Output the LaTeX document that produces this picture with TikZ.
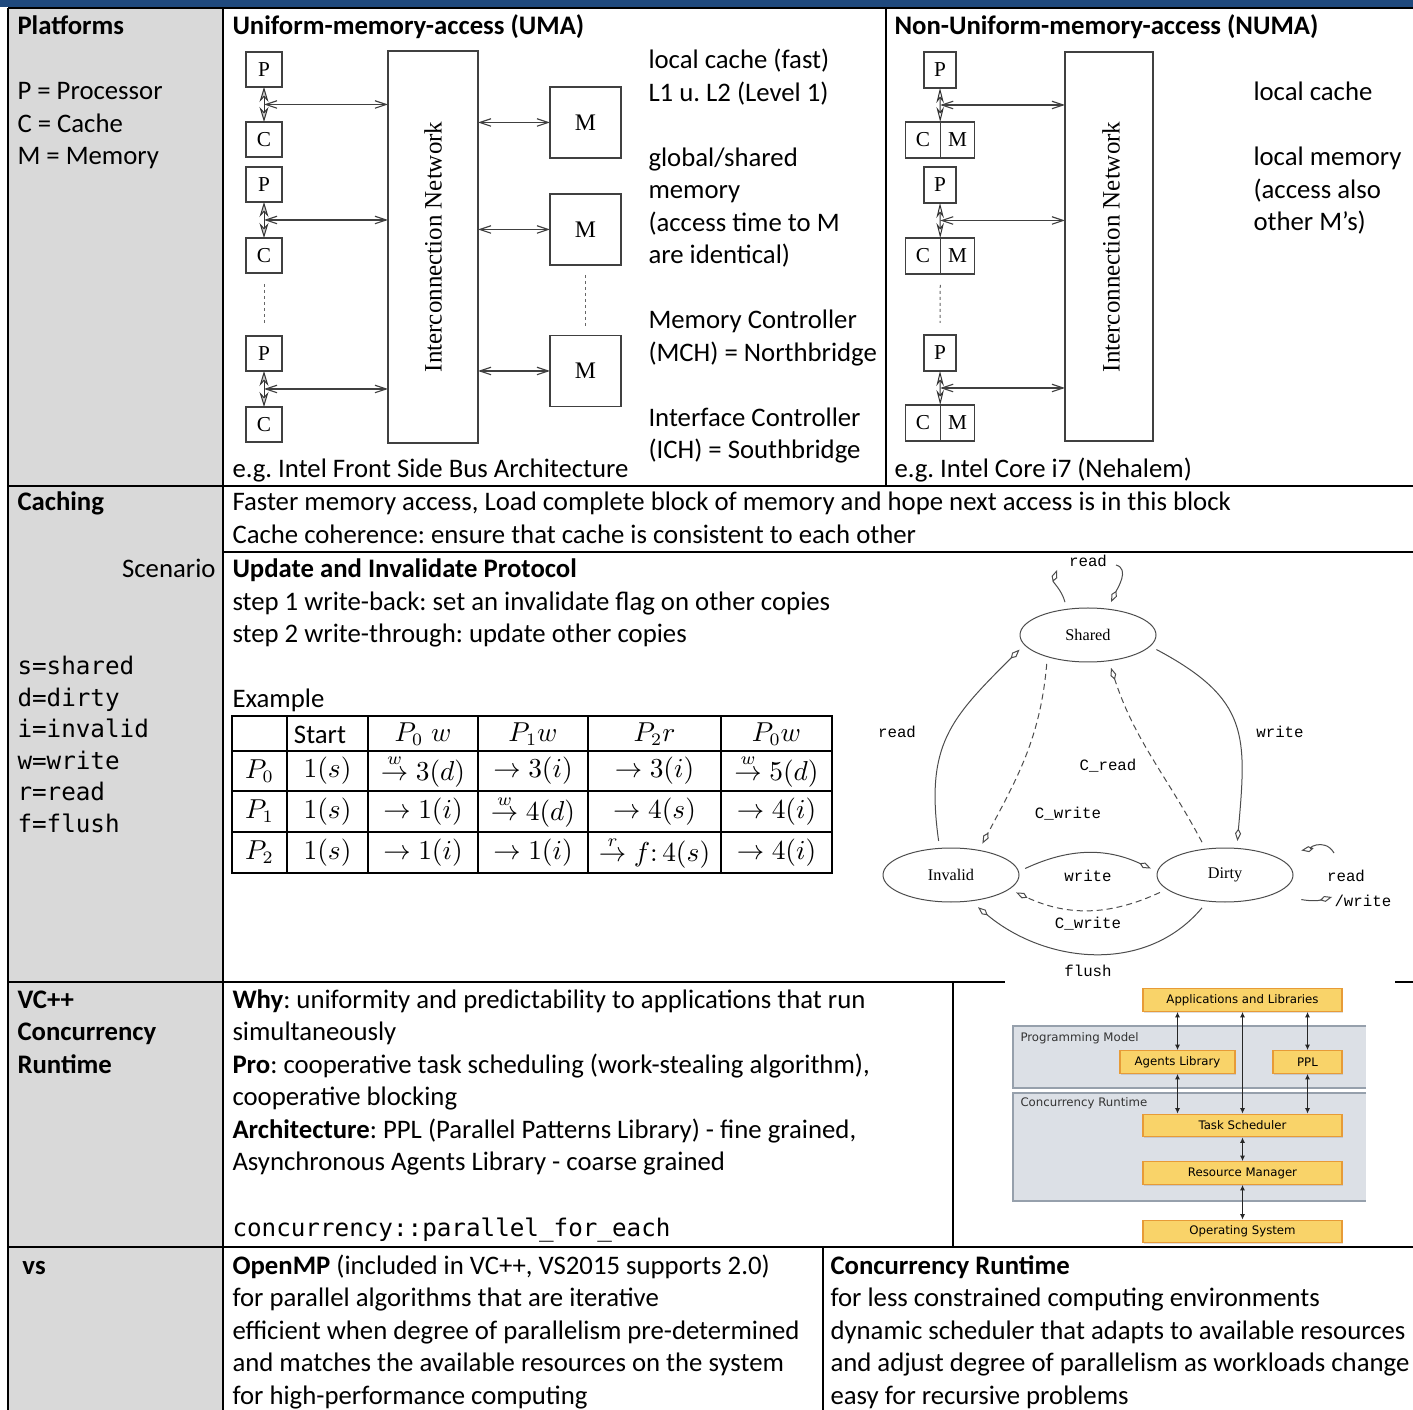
\documentclass[tikz,border=0pt]{standalone}
\usepackage[no-math]{fontspec}
\setmainfont{Carlito}
\setmonofont{DejaVu Sans Mono}
\newfontfamily\figserif{Liberation Serif}
\newfontfamily\figmono{Liberation Mono}
\newfontfamily\figsans{DejaVu Sans}
\usepackage{amsmath}
\usetikzlibrary{arrows.meta, positioning, shapes.geometric, shadows, calc}

\definecolor{bandblue}{RGB}{31,73,125}
\definecolor{colgray}{RGB}{217,217,217}
\definecolor{layerfill}{RGB}{220,224,230}
\definecolor{layeredge}{RGB}{150,160,172}
\definecolor{compfill}{RGB}{249,211,105}
\definecolor{compedge}{RGB}{231,155,55}

\begin{document}
\frenchspacing
\begin{tikzpicture}[x=0.4pt, y=-0.4pt, font=\fontsize{10.7}{13}\selectfont]

	\tikzset{
		rule/.style={line width=0.9pt},
		tline/.style={line width=0.8pt},
		txt/.style={anchor=base west, inner sep=0pt, align=left},
		mono/.style={txt, font=\ttfamily\fontsize{9.7}{12.56}\selectfont},
		tcell/.style={inner sep=0pt, font=\fontsize{10.5}{12}\selectfont},
		unit/.style={draw=black!75, line width=0.45pt, inner sep=0pt, outer sep=0pt, font=\figserif\fontsize{8.5}{9}\selectfont},
		pbox/.style={unit, minimum width=14.4pt, minimum height=14pt},
		npbox/.style={unit, minimum width=12.8pt, minimum height=14.4pt},
		halfbox/.style={unit, minimum width=13.8pt, minimum height=14.4pt},
		mbox/.style={unit, minimum width=28.4pt, minimum height=28.4pt, font=\figserif\fontsize{9.5}{10}\selectfont},
		netbox/.style={unit, minimum width=36pt, minimum height=156.8pt},
		nettext/.style={rotate=90, inner sep=0pt, font=\figserif\fontsize{10}{11}\selectfont},
		link/.style={draw=black!75, line width=0.45pt, {Straight Barb[length=4.5pt,width=3pt]}-{Straight Barb[length=4.5pt,width=3pt]}},
		bus/.style={draw=black!80, line width=0.4pt, {Stealth[length=6pt,width=3.6pt,fill=gray!40]}-{Stealth[length=6pt,width=3.6pt,fill=gray!40]}},
		nbus/.style={draw=black!80, line width=0.4pt, {Stealth[open,length=6pt,width=3pt]}-{Stealth[open,length=6pt,width=3pt]}},
		dotline/.style={draw=black!60, line width=0.4pt, dash pattern=on 1.2pt off 1.2pt},
		state/.style={ellipse, draw=black!70, line width=0.4pt, minimum width=54.4pt, minimum height=21.6pt, inner sep=0pt, outer sep=3pt, font=\figserif\fontsize{6.5}{7}\selectfont},
		trans/.style={draw=black!70, line width=0.4pt, -{Kite[open,length=5pt,width=2.4pt,inset=2pt]}},
		ctrans/.style={trans, dash pattern=on 2.4pt off 1.6pt},
		elabel/.style={inner sep=0pt, font=\figmono\fontsize{6.3}{7}\selectfont},
		comp/.style={draw=compedge, fill=compfill, line width=0.5pt, inner sep=0pt, minimum width=79.6pt, minimum height=9pt, font=\figsans\fontsize{4.7}{5}\selectfont, drop shadow={opacity=0.25, shadow xshift=0.5pt, shadow yshift=-0.5pt}},
		layerlabel/.style={anchor=west, inner sep=0pt, text=black!80, font=\figsans\fontsize{4.7}{5}\selectfont},
		rtlink/.style={draw=black!85, line width=0.4pt, {Latex[length=2.2pt,width=2pt]}-{Latex[length=2.2pt,width=2pt]}},
	}

	\useasboundingbox (0,0) rectangle (1413,1410);

	\fill[bandblue] (0,0) rectangle (1413,7);
	\fill[colgray] (8,8) rectangle (223,1410);

	\draw[rule] (8,8) -- (1413,8);
	\draw[rule] (8,8) -- (8,1410);
	\draw[rule] (223,8) -- (223,1410);
	\draw[rule] (886,8) -- (886,486);
	\draw[rule] (8,486) -- (1413,486);
	\draw[rule] (223,552) -- (1413,552);
	\draw[rule] (8,982) -- (1005,982);
	\draw[rule] (1395,982) -- (1413,982);
	\draw[rule] (953,982) -- (953,1247);
	\draw[rule] (8,1247) -- (1413,1247);
	\draw[rule] (823,1247) -- (823,1410);

	% multi-line nodes sit on the baseline of their last line
	\node[txt] (lplat) at (17,35) {\textbf{Platforms}};
	\node[txt] (llegend) at (17,165) {P = Processor\\C = Cache\\M = Memory};
	\node[txt] (lcach) at (17,511) {\textbf{Caching}};
	\node[txt, anchor=base east] (lscen) at (216,578) {Scenario};
	\node[mono] (labbr) at (17,832) {s=shared\\d=dirty\\i=invalid\\w=write\\r=read\\f=flush};
	\node[txt] (lvc) at (17,1073) {\textbf{VC++}\\\textbf{Concurrency}\\\textbf{Runtime}};
	\node[txt] (lvs) at (22,1274) {\textbf{vs}};

	\node[txt] (tuma) at (232,35) {\textbf{Uniform-memory-access (UMA)}};
	\node[txt] (tnuma) at (894,35) {\textbf{Non-Uniform-memory-access (NUMA)}};
	\node[txt] (tumanote) at (648,459) {local cache (fast)\\L1 u. L2 (Level 1)\\[13pt]global/shared\\memory\\(access time to M\\are identical)\\[13pt]Memory Controller\\(MCH) = Northbridge\\[13pt]Interface Controller\\(ICH) = Southbridge};
	\node[txt] (tumaeg) at (232,478) {e.g. Intel Front Side Bus Architecture};
	\node[txt] (tnumanote) at (1253,231) {local cache\\[13pt]local memory\\(access also\\other M's)};
	\node[txt] (tnumaeg) at (894,478) {e.g. Intel Core i7 (Nehalem)};

	% UMA
	\node[pbox] (up1) at (264,69.5) {P};
	\node[pbox, below=14pt of up1] (uc1) {C};
	\node[pbox] (up2) at (264,184.5) {P};
	\node[pbox, below=14.4pt of up2] (uc2) {C};
	\node[pbox] (up3) at (264,353.5) {P};
	\node[pbox, below=14.4pt of up3] (uc3) {C};
	\node[netbox] (unet) at (433,247) {};
	\node[nettext] (unettext) at (unet.center) {Interconnection Network};
	\node[mbox] (um1) at (585.5,122.5) {M};
	\node[mbox] (um2) at (585.5,229.5) {M};
	\node[mbox] (um3) at (585.5,371) {M};

	\coordinate (uj1) at ($(up1.south)!0.5!(uc1.north)$);
	\coordinate (uj2) at ($(up2.south)!0.5!(uc2.north)$);
	\coordinate (uj3) at ($(up3.south)!0.5!(uc3.north)$);

	\draw[bus] (up1) -- (uc1);
	\draw[bus] (up2) -- (uc2);
	\draw[bus] (up3) -- (uc3);
	\draw[link] (uj1) -- (uj1 -| unet.west);
	\draw[link] (uj2) -- (uj2 -| unet.west);
	\draw[link] (uj3) -- (uj3 -| unet.west);
	\draw[link] (unet.east |- um1) -- (um1.west);
	\draw[link] (unet.east |- um2) -- (um2.west);
	\draw[link] (unet.east |- um3) -- (um3.west);
	\draw[dotline] ([yshift=-4.4pt]uc2.south) -- ([yshift=5.2pt]up3.north);
	\draw[dotline] ([yshift=-4pt]um2.south) -- ([yshift=2.8pt]um3.north);

	% NUMA
	\node[npbox] (np1) at (940,70) {P};
	\node[halfbox] (nc1) at (923,140) {C};
	\node[halfbox, right=0pt of nc1] (nm1) {M};
	\node[npbox] (np2) at (940,185) {P};
	\node[halfbox] (nc2) at (923,256) {C};
	\node[halfbox, right=0pt of nc2] (nm2) {M};
	\node[npbox] (np3) at (940,353) {P};
	\node[halfbox] (nc3) at (923,423) {C};
	\node[halfbox, right=0pt of nc3] (nm3) {M};
	\node[netbox, minimum width=35.2pt, minimum height=155.6pt] (nnet) at (1109,246.5) {};
	\node[nettext] (nnettext) at (1111,247) {Interconnection Network};

	\coordinate (nj1) at ($(np1.south)!0.5!(nc1.north east)$);
	\coordinate (nj2) at ($(np2.south)!0.5!(nc2.north east)$);
	\coordinate (nj3) at ($(np3.south)!0.5!(nc3.north east)$);

	\draw[nbus] (np1.south) -- (nc1.north east);
	\draw[nbus] (np2.south) -- (nc2.north east);
	\draw[nbus] (np3.south) -- (nc3.north east);
	\draw[link] (nj1) -- (nj1 -| nnet.west);
	\draw[link] (nj2) -- (nj2 -| nnet.west);
	\draw[link] (nj3) -- (nj3 -| nnet.west);
	\draw[dotline] ([yshift=-4.4pt]nc2.south east) -- ([yshift=4.8pt]np3.north);

	% caching
	\node[txt] (tcach) at (232,543.5) {Faster memory access, Load complete block of memory and hope next access is in this block\\Cache coherence: ensure that cache is consistent to each other};
	\node[txt] (tscen) at (232,708) {\textbf{Update and Invalidate Protocol}\\step 1 write-back: set an invalidate flag on other copies\\step 2 write-through: update other copies\\[13pt]Example};

	\draw[tline] (232,716) rectangle (832,873);
	\draw[tline] (232,751) -- (832,751);
	\draw[tline] (232,791) -- (832,791);
	\draw[tline] (232,832) -- (832,832);
	\draw[tline] (287,716) -- (287,873);
	\draw[tline] (368,716) -- (368,873);
	\draw[tline] (478,716) -- (478,873);
	\draw[tline] (588,716) -- (588,873);
	\draw[tline] (721,716) -- (721,873);

	\node[tcell, font=\fontsize{10.7}{13}\selectfont] (h2) at (320,735) {Start};
	\node[tcell] (h3) at (423,734) {$P_0\;w$};
	\node[tcell] (h4) at (533,734) {$P_1w$};
	\node[tcell] (h5) at (654.5,734) {$P_2r$};
	\node[tcell] (h6) at (776.5,734) {$P_0w$};

	\node[tcell] (a1) at (259.5,771) {$P_0$};
	\node[tcell] (a2) at (327.5,771) {$1(s)$};
	\node[tcell] (a3) at (423,771) {$\stackrel{w}{\rightarrow}3(d)$};
	\node[tcell] (a4) at (533,771) {$\rightarrow 3(i)$};
	\node[tcell] (a5) at (654.5,771) {$\rightarrow 3(i)$};
	\node[tcell] (a6) at (776.5,771) {$\stackrel{w}{\rightarrow}5(d)$};

	\node[tcell] (b1) at (259.5,811.5) {$P_1$};
	\node[tcell] (b2) at (327.5,811.5) {$1(s)$};
	\node[tcell] (b3) at (423,811.5) {$\rightarrow 1(i)$};
	\node[tcell] (b4) at (533,811.5) {$\stackrel{w}{\rightarrow}4(d)$};
	\node[tcell] (b5) at (654.5,811.5) {$\rightarrow 4(s)$};
	\node[tcell] (b6) at (776.5,811.5) {$\rightarrow 4(i)$};

	\node[tcell] (d1) at (259.5,852.5) {$P_2$};
	\node[tcell] (d2) at (327.5,852.5) {$1(s)$};
	\node[tcell] (d3) at (423,852.5) {$\rightarrow 1(i)$};
	\node[tcell] (d4) at (533,852.5) {$\rightarrow 1(i)$};
	\node[tcell] (d5) at (654.5,852.5) {$\stackrel{r}{\rightarrow} f\mathpunct{:}4(s)$};
	\node[tcell] (d6) at (776.5,852.5) {$\rightarrow 4(i)$};

	% state diagram
	\node[state] (shared) at (1088,635) {Shared};
	\node[state] (invalid) at (951,875) {Invalid};
	\node[state] (dirty) at (1225,875) {Dirty};
	\coordinate (sl) at (1057,570);
	\coordinate (sr) at (1116,565);
	\coordinate (dl) at (1334,853);
	\coordinate (dr) at (1332,897);

	\draw[trans] (invalid.110) to[out=98, in=225, looseness=1.2] (shared.192);
	\draw[trans] (shared.348) to[out=-28, in=85, looseness=1.3] (dirty.70);
	\draw[ctrans] (shared.215) to[out=-95, in=62] (invalid.45);
	\draw[ctrans] (dirty.125) to[out=118, in=-72] (shared.305);
	\draw[trans] (invalid.5) to[out=25, in=155] (dirty.175);
	\draw[ctrans] (dirty.195) to[out=-155, in=-25] (invalid.345);
	\draw[trans] (dirty.235) to[out=-130, in=-40] (invalid.310);
	\draw[trans] (shared.125) to[out=105, in=250] (sl);
	\draw[trans] (sr) to[out=-15, in=65] (shared.55);
	\draw[trans, shorten >=7pt] (dl) to[out=120, in=10] (dirty.20);
	\draw[trans, shorten <=7pt] (dirty.-20) to[out=-10, in=195] (dr);

	\node[elabel] (e1) at (1088,561) {read};
	\node[elabel] (e2) at (897,732) {read};
	\node[elabel] (e3) at (1280,732) {write};
	\node[elabel] (e4) at (1108,766) {C\_read};
	\node[elabel] (e5) at (1068,814) {C\_write};
	\node[elabel] (e6) at (1088,876) {write};
	\node[elabel] (e7) at (1088,924) {C\_write};
	\node[elabel] (e8) at (1088,971) {flush};
	\node[elabel] (e9) at (1346,876) {read};
	\node[elabel, anchor=west] (e10) at (1334,901) {/write};

	% VC++ row
	\node[txt] (tvc) at (232,1170.5) {\textbf{Why}: uniformity and predictability to applications that run\\simultaneously\\\textbf{Pro}: cooperative task scheduling (work-stealing algorithm),\\cooperative blocking\\\textbf{Architecture}: PPL (Parallel Patterns Library) - fine grained,\\Asynchronous Agents Library - coarse grained};
	\node[mono] (tcode) at (232,1236) {concurrency::parallel\_for\_each};

	\fill[layerfill] (1013,1026) rectangle (1366,1088);
	\draw[layeredge, line width=0.6pt] (1366,1026) -- (1013,1026) -- (1013,1088) -- (1366,1088);
	\fill[layerfill] (1013,1093) rectangle (1366,1201);
	\draw[layeredge, line width=0.6pt] (1366,1093) -- (1013,1093) -- (1013,1201) -- (1366,1201);
	\node[layerlabel] (lpm) at (1020,1038) {Programming Model};
	\node[layerlabel] (lcr) at (1020,1103) {Concurrency Runtime};

	\node[comp] (app) at (1242.5,1000) {Applications and Libraries};
	\node[comp, minimum width=46pt] (agents) at (1177.5,1062) {Agents Library};
	\node[comp, minimum width=27.6pt] (ppl) at (1307.5,1062) {PPL};
	\node[comp] (task) at (1242.5,1125.5) {Task Scheduler};
	\node[comp] (res) at (1242.5,1173) {Resource Manager};
	\node[comp] (os) at (1242.5,1231.5) {Operating System};

	\draw[rtlink] (agents.north |- app.south) -- (agents.north);
	\draw[rtlink] (ppl.north |- app.south) -- (ppl.north);
	\draw[rtlink] (app) -- (task);
	\draw[rtlink] (agents.south) -- (agents.south |- task.north);
	\draw[rtlink] (ppl.south) -- (ppl.south |- task.north);
	\draw[rtlink] (task) -- (res);
	\draw[rtlink] (res) -- (os);

	% vs row
	\node[txt] (tomp) at (232,1404) {\textbf{OpenMP} (included in VC++, VS2015 supports 2.0)\\for parallel algorithms that are iterative\\efficient when degree of parallelism pre-determined\\and matches the available resources on the system\\for high-performance computing};
	\node[txt] (tcrt) at (830,1404) {\textbf{Concurrency Runtime}\\for less constrained computing environments\\dynamic scheduler that adapts to available resources\\and adjust degree of parallelism as workloads change\\easy for recursive problems};

\end{tikzpicture}
\end{document}
